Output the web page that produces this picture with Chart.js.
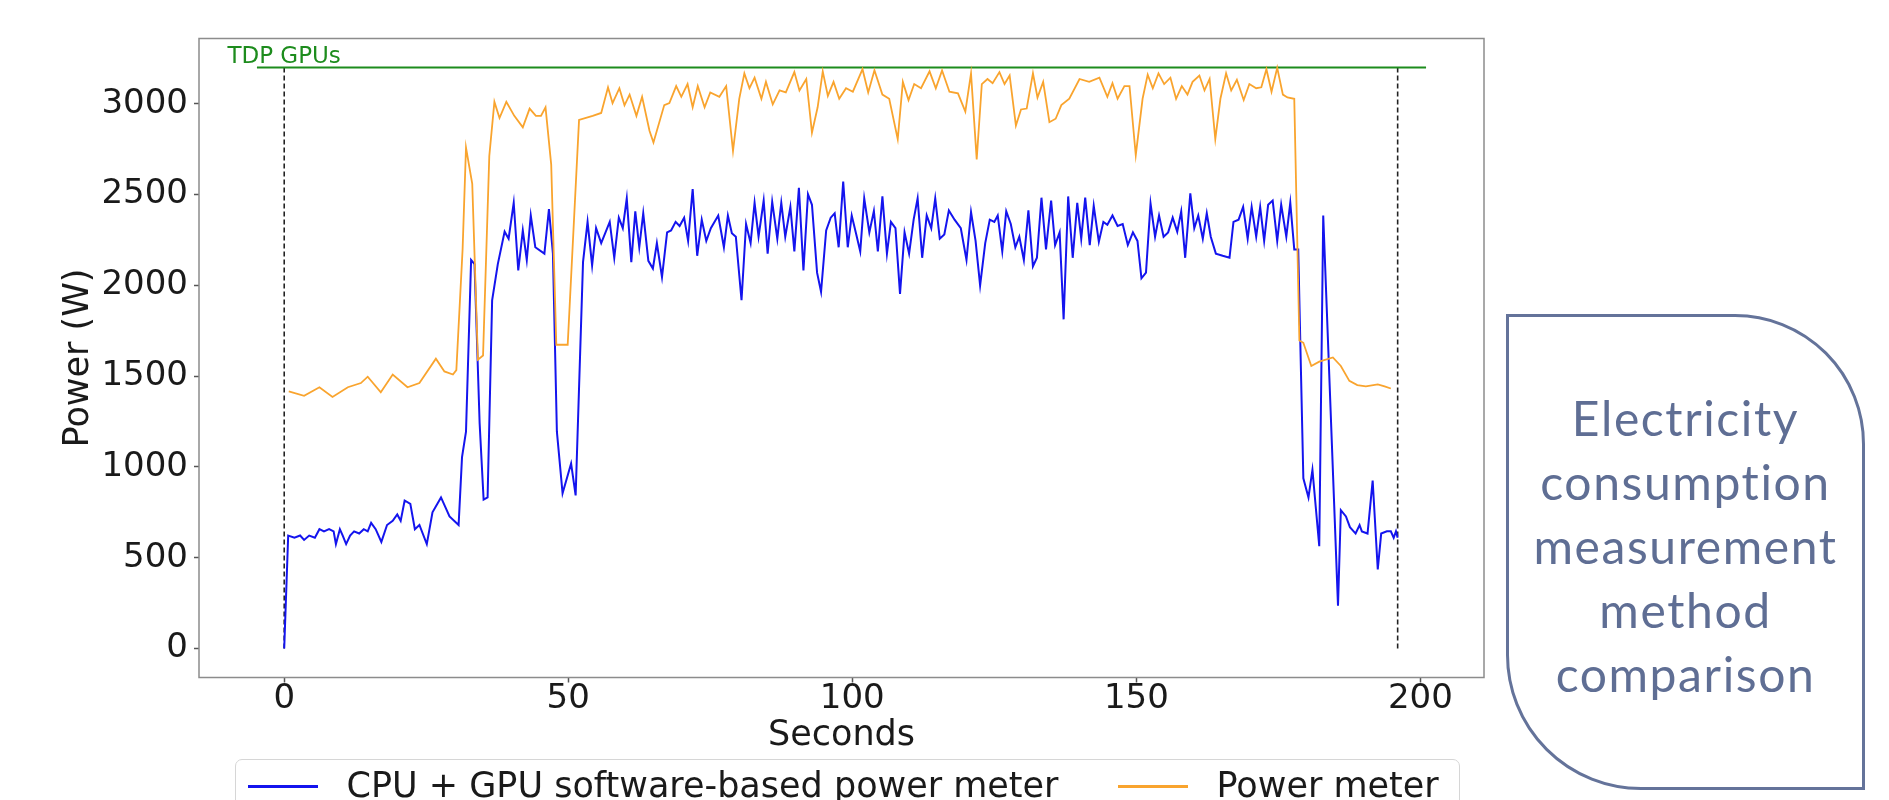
<!DOCTYPE html>
<html>
<head>
<meta charset="utf-8">
<script src="https://cdn.jsdelivr.net/npm/chart.js@4.4.1/dist/chart.umd.min.js"></script>
<style>
  html, body { margin: 0; padding: 0; background: #fff; overflow: hidden; }
  #wrap { position: relative; width: 1889px; height: 800px; overflow: hidden; }
  #chart { position: absolute; left: 0; top: 0; }
  #legend {
    position: absolute; left: 235px; top: 759px; width: 1225px; height: 62px;
    box-sizing: border-box; border: 1.5px solid #d6d6d6; border-radius: 7px;
    font-family: "DejaVu Sans"; font-size: 35px; color: #1a1a1a;
  }
  #legend .swatch { position: absolute; top: 25px; width: 70px; height: 2.5px; }
  #legend .text { position: absolute; top: 8px; line-height: 35px; white-space: nowrap; }
  #note {
    position: absolute; left: 1506px; top: 314px; width: 359px; height: 476px;
    box-sizing: border-box; border: 3px solid #64739a;
    border-radius: 0 130px 0 135px;
    color: #5f6e94; font-family: Lato, "Open Sans", sans-serif; font-size: 48px;
    letter-spacing: 1.6px;
    line-height: 64px; text-align: center; padding-top: 69px;
  }
</style>
</head>
<body>
<div id="wrap">
  <canvas id="chart" width="1889" height="800"></canvas>
  <div id="legend"></div>
  <div id="note">Electricity<br>consumption<br>measurement<br>method<br>comparison</div>
</div>
<script>
// software meter (CPU + GPU)
const softTimes = [
  0.0, 0.7, 1.8, 2.8, 3.5, 4.4, 5.4, 6.2, 7.0, 7.9, 8.7, 9.1, 9.8, 10.3, 10.9, 11.6, 12.3, 13.2, 14.0, 14.7,
  15.3, 16.1, 17.1, 18.1, 19.1, 19.9, 20.5, 21.2, 22.2, 23.0, 23.8, 25.1, 26.1, 27.6, 29.1, 30.7, 31.3, 32.0, 32.9, 33.5,
  34.4, 35.1, 35.8, 36.6, 37.6, 38.8, 39.5, 40.4, 41.2, 42.0, 42.7, 43.4, 44.2, 45.8, 46.6, 47.3, 48.0, 49.0, 50.5, 51.3,
  52.6, 53.4, 54.2, 54.9, 55.8, 57.3, 58.1, 58.9, 59.6, 60.3, 61.1, 61.8, 62.5, 63.2, 64.1, 64.9, 65.6, 66.5, 67.4, 68.1,
  68.9, 69.6, 70.4, 71.1, 71.9, 72.7, 73.5, 74.3, 75.1, 76.4, 77.4, 78.1, 78.8, 79.5, 80.5, 81.3, 82.1, 82.8, 83.5, 84.4,
  85.1, 85.9, 86.8, 87.5, 88.2, 89.1, 89.8, 90.6, 91.4, 92.2, 92.9, 93.8, 94.5, 95.4, 96.2, 96.9, 97.6, 98.4, 99.2, 99.9,
  100.7, 101.4, 102.1, 103.0, 103.8, 104.5, 105.3, 106.1, 106.8, 107.6, 108.4, 109.2, 110.0, 110.8, 111.5, 112.3, 113.1, 113.9, 114.6, 115.4,
  116.2, 117.0, 118.0, 119.1, 120.1, 120.9, 121.7, 122.5, 123.4, 124.2, 125.0, 125.6, 126.4, 127.1, 127.9, 128.7, 129.4, 130.2, 131.0, 131.8,
  132.5, 133.3, 134.1, 135.0, 135.7, 136.5, 137.2, 138.0, 138.8, 139.6, 140.3, 141.0, 141.8, 142.5, 143.4, 144.2, 144.9, 145.8, 146.7, 147.6,
  148.5, 149.4, 150.2, 150.9, 151.7, 152.5, 153.3, 154.0, 154.8, 155.6, 156.4, 157.2, 157.9, 158.6, 159.5, 160.2, 160.9, 161.7, 162.4, 163.1,
  164.0, 165.2, 166.4, 167.1, 168.0, 168.8, 169.6, 170.3, 171.1, 171.8, 172.5, 173.2, 174.0, 174.8, 175.5, 176.4, 177.1, 177.8, 178.5, 179.4,
  180.3, 181.0, 182.2, 182.9, 185.5, 186.0, 186.9, 187.6, 188.6, 189.3, 189.7, 190.7, 191.6, 192.5, 193.1, 194.1, 194.8, 195.3, 195.7, 196.0
];
const softWatts = [
  0, 622, 610, 622, 598, 622, 610, 657, 645, 657, 645, 575, 657, 622, 575, 622, 645, 633, 657, 645,
  692, 657, 587, 680, 703, 738, 703, 815, 797, 657, 680, 575, 750, 832, 727, 680, 1054, 1194, 2140, 2117,
  1241, 820, 832, 1918, 2117, 2296, 2257, 2455, 2082, 2303, 2140, 2385, 2210, 2175, 2420, 2175, 1194, 855, 1019, 843,
  2128, 2350, 2110, 2315, 2233, 2350, 2152, 2373, 2315, 2479, 2128, 2408, 2210, 2397, 2135, 2093, 2233, 2046, 2292, 2303,
  2350, 2327, 2373, 2245, 2530, 2163, 2362, 2245, 2315, 2385, 2210, 2385, 2287, 2268, 1918, 2338, 2233, 2455, 2268, 2467,
  2175, 2460, 2257, 2455, 2268, 2432, 2187, 2537, 2082, 2502, 2444, 2070, 1965, 2303, 2373, 2397, 2210, 2572, 2210, 2385,
  2280, 2187, 2479, 2292, 2410, 2187, 2490, 2175, 2350, 2315, 1953, 2292, 2175, 2362, 2479, 2152, 2385, 2315, 2479, 2257,
  2280, 2413, 2362, 2315, 2140, 2404, 2245, 2000, 2233, 2362, 2350, 2385, 2187, 2408, 2338, 2210, 2268, 2140, 2413, 2105,
  2152, 2483, 2198, 2467, 2222, 2292, 1813, 2490, 2152, 2455, 2257, 2483, 2222, 2438, 2240, 2350, 2334, 2385, 2327, 2338,
  2222, 2292, 2245, 2039, 2070, 2451, 2268, 2385, 2268, 2292, 2373, 2296, 2408, 2152, 2507, 2315, 2385, 2257, 2397, 2268,
  2175, 2163, 2152, 2350, 2362, 2432, 2257, 2432, 2268, 2432, 2245, 2444, 2467, 2245, 2444, 2268, 2455, 2198, 2198, 937,
  832, 984, 563, 2385, 236, 762, 727, 668, 633, 680, 645, 633, 925, 435, 633, 645, 645, 610, 645, 610
];

// wall power meter
const meterTimes = [
  0.8, 3.5, 6.2, 8.5, 11.2, 13.5, 14.7, 17.0, 19.1, 21.7, 23.8, 26.7, 28.2, 29.7, 30.3, 31.4, 32.0, 33.1, 34.1, 35.0,
  36.1, 37.0, 37.9, 39.1, 40.5, 42.0, 43.2, 44.3, 45.2, 46.0, 47.0, 47.9, 49.9, 51.9, 54.3, 55.8, 57.0, 57.8, 59.0, 59.9,
  60.8, 62.0, 63.0, 64.3, 65.0, 66.9, 67.8, 69.0, 69.9, 71.0, 71.9, 72.8, 74.0, 75.0, 76.6, 77.8, 79.0, 80.1, 81.0, 81.9,
  82.8, 84.0, 84.8, 86.0, 87.2, 88.3, 89.8, 90.7, 91.9, 92.9, 93.9, 94.8, 95.7, 96.7, 97.7, 98.9, 100.1, 101.8, 102.8, 103.9,
  105.3, 106.5, 108.0, 108.9, 109.9, 110.9, 112.1, 113.6, 114.7, 115.8, 117.1, 118.6, 119.9, 120.9, 121.9, 122.8, 123.8, 124.7, 125.9, 126.8,
  127.7, 128.8, 129.7, 130.7, 131.8, 132.6, 133.6, 134.7, 135.8, 136.8, 138.2, 140.0, 141.7, 143.5, 144.9, 145.8, 146.7, 147.9, 148.8, 149.9,
  151.1, 152.0, 152.9, 153.9, 154.9, 156.0, 157.0, 158.0, 159.0, 159.9, 161.1, 162.0, 162.9, 163.9, 164.8, 165.8, 166.7, 167.7, 168.9, 169.9,
  171.1, 172.0, 172.9, 173.8, 174.8, 175.8, 176.6, 177.8, 178.7, 179.4, 180.8, 182.2, 184.6, 186.0, 187.5, 188.9, 190.4, 192.5, 193.7, 194.8
];
const meterWatts = [
  1416, 1392, 1439, 1385, 1439, 1462, 1497, 1411, 1509, 1439, 1462, 1596, 1526, 1509, 1533, 2198, 2759, 2560, 1591, 1614,
  2712, 3011, 2922, 3011, 2934, 2871, 2974, 2934, 2934, 2981, 2665, 1673, 1673, 2911, 2934, 2950, 3091, 3004, 3086, 2992,
  3051, 2934, 3039, 2852, 2787, 2993, 3004, 3098, 3039, 3109, 2981, 3098, 2981, 3063, 3039, 3098, 2740, 3028, 3168, 3086,
  3144, 3028, 3121, 2997, 3074, 3063, 3175, 3074, 3137, 2841, 2981, 3179, 3044, 3121, 3028, 3086, 3067, 3191, 3063, 3185,
  3051, 3028, 2806, 3121, 3021, 3109, 3086, 3179, 3086, 3184, 3067, 3058, 2957, 3168, 2694, 3109, 3137, 3114, 3175, 3109,
  3156, 2880, 2969, 2974, 3168, 3035, 3121, 2899, 2918, 2993, 3028, 3137, 3121, 3144, 3039, 3114, 3028, 3098, 3098, 2717,
  3028, 3161, 3086, 3168, 3109, 3144, 3028, 3098, 3051, 3121, 3156, 3074, 3137, 2806, 3028, 3168, 3074, 3133, 3021, 3109,
  3086, 3091, 3191, 3067, 3198, 3051, 3035, 3028, 1696, 1684, 1556, 1580, 1603, 1556, 1474, 1451, 1444, 1455, 1444, 1432
];

const tdpWatts = 3200;
const tdpStart = -4.8;
const tdpEnd = 201;
const runBounds = [0, 196];
const xTickValues = [0, 50, 100, 150, 200];
const yTickValues = [0, 500, 1000, 1500, 2000, 2500, 3000];

const toPoints = (xs, ys) => xs.map((x, i) => ({ x: x, y: ys[i] }));

Chart.defaults.font.family = '"DejaVu Sans"';
Chart.defaults.color = '#1a1a1a';

const framePlugin = {
  id: 'frame',
  afterDatasetsDraw(chart) {
    const { ctx, chartArea: a, scales } = chart;
    ctx.save();
    ctx.strokeStyle = '#8c8c8c';
    ctx.lineWidth = 1.5;
    ctx.strokeRect(a.left, a.top, a.right - a.left, a.bottom - a.top);
    ctx.fillStyle = '#1d8c1d';
    ctx.font = '23px "DejaVu Sans"';
    ctx.textBaseline = 'alphabetic';
    ctx.fillText('TDP GPUs', scales.x.getPixelForValue(-10), scales.y.getPixelForValue(tdpWatts) - 5);
    ctx.restore();
  }
};

const boundLine = x => ({
  data: [{ x: x, y: 0 }, { x: x, y: tdpWatts }],
  borderColor: '#222',
  borderWidth: 1.6,
  borderDash: [5, 3],
  pointRadius: 0,
  order: 5
});

const chart = new Chart(document.getElementById('chart').getContext('2d'), {
  type: 'line',
  data: {
    datasets: [
      {
        label: 'CPU + GPU software-based power meter',
        data: toPoints(softTimes, softWatts),
        borderColor: '#1414ee',
        borderWidth: 2,
        pointRadius: 0,
        order: 2
      },
      {
        label: 'Power meter',
        data: toPoints(meterTimes, meterWatts),
        borderColor: '#f9a42e',
        borderWidth: 1.8,
        pointRadius: 0,
        order: 1
      },
      {
        data: [{ x: tdpStart, y: tdpWatts }, { x: tdpEnd, y: tdpWatts }],
        borderColor: '#1d8c1d',
        borderWidth: 2,
        pointRadius: 0,
        order: 3
      },
      boundLine(runBounds[0]),
      boundLine(runBounds[1])
    ]
  },
  options: {
    responsive: false,
    animation: false,
    devicePixelRatio: 1,
    layout: { padding: { top: 38.5, right: 405, bottom: 47.5, left: 0 } },
    plugins: { legend: { display: false }, tooltip: { enabled: false } },
    scales: {
      x: {
        type: 'linear',
        min: -15,
        max: 211.2,
        afterBuildTicks: s => { s.ticks = xTickValues.map(v => ({ value: v })); },
        afterFit: s => { s.height = 75; },
        border: { display: false },
        grid: { drawOnChartArea: false, tickLength: 5, tickColor: '#555', tickWidth: 1.5 },
        ticks: { font: { size: 34 }, color: '#1a1a1a', padding: -4, maxRotation: 0 },
        title: { display: true, text: 'Seconds', color: '#1a1a1a', font: { size: 35, lineHeight: 1 }, padding: { top: -1, bottom: -1 } }
      },
      y: {
        min: -160,
        max: 3360,
        afterBuildTicks: s => { s.ticks = yTickValues.map(v => ({ value: v })); },
        afterFit: s => { s.width = 199; },
        border: { display: false },
        grid: { drawOnChartArea: false, tickLength: 5, tickColor: '#555', tickWidth: 1.5 },
        ticks: { font: { size: 34 }, color: '#1a1a1a', padding: 6, callback: v => String(v) },
        title: { display: true, text: 'Power (W)', color: '#1a1a1a', font: { size: 35, lineHeight: 1 }, padding: { top: 61, bottom: 61 } }
      }
    }
  },
  plugins: [framePlugin]
});

// legend box under the axes, built from the two measured series
const legend = document.getElementById('legend');
const slots = [{ swatch: 11.5, text: 110.5 }, { swatch: 881.5, text: 980.5 }];
chart.data.datasets.slice(0, 2).forEach((ds, i) => {
  const sw = document.createElement('div');
  sw.className = 'swatch';
  sw.style.left = slots[i].swatch + 'px';
  sw.style.background = ds.borderColor;
  const tx = document.createElement('div');
  tx.className = 'text';
  tx.style.left = slots[i].text + 'px';
  tx.textContent = ds.label;
  legend.appendChild(sw);
  legend.appendChild(tx);
});
</script>
</body>
</html>
